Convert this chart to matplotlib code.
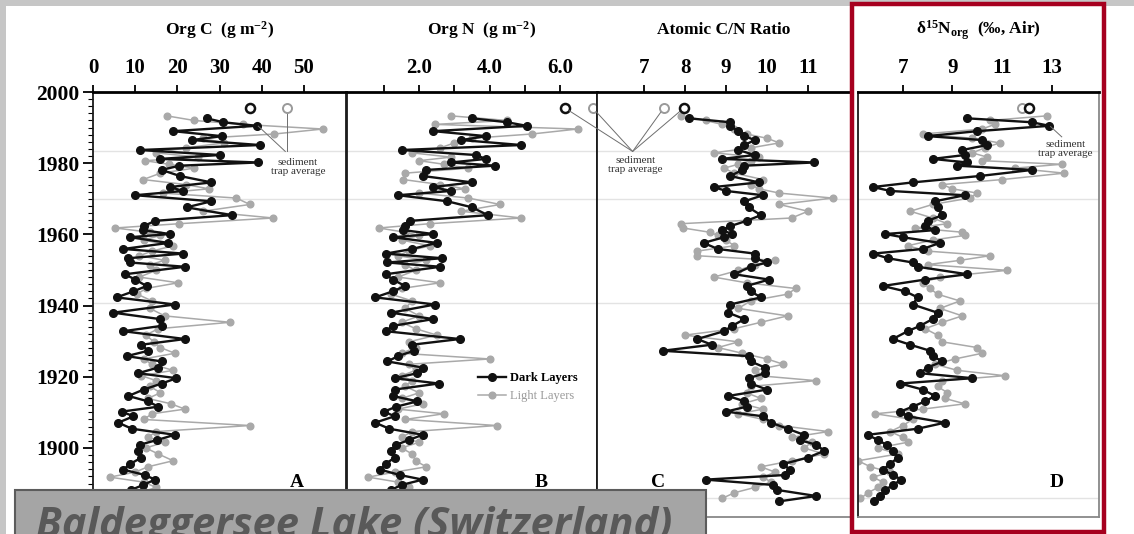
#!python3

import matplotlib
matplotlib.use("Agg")
import matplotlib.pyplot as plt
from matplotlib.patches import Rectangle
from matplotlib.lines import Line2D
from matplotlib.ticker import MultipleLocator

plt.rcParams['font.family'] = ['Liberation Serif', 'DejaVu Serif']
plt.rcParams['mathtext.fontset'] = 'custom'
plt.rcParams['mathtext.rm'] = 'Liberation Serif'
plt.rcParams['mathtext.bf'] = 'Liberation Serif:bold'
plt.rcParams['mathtext.it'] = 'Liberation Serif:italic'

W, H = 1134, 534

# years of the dark / light varve layers
dark_years = [1992.6, 1991.5, 1990.5, 1989.0, 1987.6, 1986.5, 1985.1, 1983.7, 1982.3, 1981.2,
              1980.2, 1979.3, 1978.1, 1976.4, 1974.6, 1973.3, 1972.2, 1971.0, 1969.3, 1967.6,
              1965.4, 1963.8, 1962.3, 1961.2, 1960.1, 1959.2, 1957.6, 1955.9, 1954.6, 1953.3,
              1952.1, 1950.9, 1948.8, 1947.3, 1945.5, 1944.0, 1942.3, 1940.3, 1938.0, 1936.2,
              1934.3, 1932.8, 1930.6, 1929.0, 1927.3, 1925.8, 1924.3, 1922.6, 1921.0, 1919.6,
              1918.1, 1916.4, 1914.6, 1913.1, 1911.6, 1910.2, 1908.9, 1907.1, 1905.4, 1903.7,
              1902.2, 1900.9, 1899.2, 1897.3, 1895.5, 1893.9, 1892.4, 1891.1, 1889.6, 1888.2,
              1886.5, 1885.0]
light_years = [1993.3, 1992.0, 1990.9, 1989.6, 1988.2, 1987.0, 1985.7, 1984.3, 1982.9, 1981.7,
               1980.7, 1979.7, 1978.6, 1977.2, 1975.4, 1974.0, 1972.8, 1971.6, 1970.2, 1968.4,
               1966.5, 1964.6, 1963.0, 1961.8, 1960.6, 1959.7, 1958.4, 1956.8, 1955.3, 1954.0,
               1952.7, 1951.5, 1949.9, 1948.0, 1946.4, 1944.8, 1943.2, 1941.3, 1939.2, 1937.1,
               1935.3, 1933.5, 1931.7, 1929.8, 1928.2, 1926.6, 1925.0, 1923.5, 1921.8, 1920.3,
               1918.9, 1917.3, 1915.5, 1913.9, 1912.4, 1910.9, 1909.6, 1908.0, 1906.3, 1904.6,
               1903.0, 1901.6, 1900.0, 1898.3, 1896.4, 1894.7, 1893.2, 1891.8, 1890.4, 1888.9,
               1887.4, 1885.8]

orgc_dark = [27.0, 30.9, 38.8, 19.0, 30.5, 23.5, 39.6, 11.1, 30.1, 15.9,
             39.2, 20.5, 16.3, 20.6, 28.1, 18.2, 21.4, 10.0, 28.1, 22.2,
             32.9, 14.7, 12.0, 11.9, 18.2, 8.8, 17.9, 7.2, 21.4, 8.4,
             8.8, 21.8, 7.6, 10.0, 12.7, 9.6, 5.6, 19.4, 4.8, 15.9,
             16.3, 7.2, 21.8, 11.5, 13.1, 8.0, 16.3, 15.5, 10.7, 19.8,
             16.3, 12.0, 8.4, 13.0, 15.5, 6.8, 9.6, 6.0, 9.2, 19.4,
             15.1, 11.1, 10.7, 11.5, 8.8, 7.2, 12.3, 14.7, 11.9, 9.0,
             12.0, 10.5]
orgc_light = [17.5, 24.0, 35.5, 54.5, 43.0, 26.0, 31.0, 22.0, 15.0, 25.0,
              12.3, 18.0, 24.0, 16.0, 11.9, 22.0, 27.5, 16.5, 34.0, 37.2,
              26.0, 42.7, 20.5, 5.2, 13.5, 16.0, 12.0, 19.0, 14.0, 11.0,
              17.0, 13.5, 15.0, 11.0, 20.2, 12.5, 10.5, 14.0, 13.5, 17.0,
              32.5, 15.5, 12.5, 14.5, 16.0, 19.4, 12.0, 14.0, 19.0, 11.5,
              15.0, 13.5, 16.0, 13.0, 18.5, 21.8, 14.0, 12.0, 37.2, 15.0,
              13.0, 17.0, 12.5, 15.5, 19.0, 13.0, 10.0, 4.0, 12.0, 15.0,
              11.0, 9.0]

orgn_dark = [3.5, 4.5, 5.05, 2.4, 3.9, 3.2, 4.9, 1.5, 3.6, 3.9,
             2.9, 4.15, 2.2, 2.1, 3.5, 2.4, 2.9, 1.4, 2.8, 3.5,
             3.95, 1.75, 1.6, 1.55, 2.4, 1.25, 2.5, 1.8, 1.05, 2.65,
             1.1, 2.6, 1.05, 1.25, 1.6, 1.25, 0.75, 2.45, 1.2, 2.4,
             1.25, 1.05, 3.15, 1.8, 1.85, 1.4, 1.1, 2.1, 1.95, 1.3,
             2.55, 1.3, 1.25, 1.95, 1.35, 1.0, 1.3, 0.75, 1.15, 2.1,
             1.7, 1.35, 1.2, 1.3, 1.05, 0.9, 1.45, 2.1, 1.5, 1.2,
             1.4, 1.1]
orgn_light = [2.9, 4.5, 2.45, 6.5, 5.2, 3.5, 3.0, 2.6, 1.8, 2.9,
              2.0, 2.7, 3.4, 1.6, 1.55, 2.6, 3.3, 2.0, 3.4, 4.3,
              3.2, 4.9, 2.3, 0.85, 1.6, 2.0, 1.5, 2.3, 1.7, 1.4,
              2.2, 1.6, 1.9, 1.4, 2.6, 1.5, 1.2, 1.8, 1.6, 2.0,
              1.5, 1.9, 2.5, 1.7, 1.9, 1.5, 4.0, 1.7, 1.9, 1.5,
              1.8, 1.6, 2.0, 1.5, 2.1, 1.4, 2.7, 1.6, 4.2, 1.8,
              1.5, 2.0, 1.5, 1.8, 1.9, 2.2, 1.3, 0.55, 1.4, 1.7,
              1.2, 1.0]

cn_dark = [8.1, 9.1, 9.1, 9.3, 9.45, 9.7, 9.45, 9.3, 9.7, 8.9,
           11.15, 9.45, 9.4, 9.1, 9.8, 8.7, 9.0, 9.9, 9.45, 9.55,
           9.85, 9.5, 9.1, 8.9, 9.15, 8.95, 8.45, 8.8, 9.7, 9.7,
           10.0, 9.6, 9.2, 10.05, 9.5, 9.6, 9.85, 9.1, 9.05, 9.45,
           9.15, 8.95, 8.3, 8.65, 7.45, 9.55, 9.6, 9.95, 9.95, 9.55,
           9.6, 10.0, 9.05, 9.45, 9.5, 9.0, 9.9, 10.1, 10.5, 10.9,
           10.8, 11.2, 11.4, 11.0, 10.4, 10.55, 10.45, 8.5, 10.15, 10.25,
           11.2, 10.3]
cn_light = [7.9, 8.5, 8.9, 9.2, 9.5, 10.0, 10.3, 9.6, 8.7, 9.8,
            9.6, 9.3, 8.95, 9.2, 9.9, 9.6, 9.8, 10.3, 11.6, 10.3,
            11.0, 10.6, 7.9, 7.95, 8.6, 8.8, 9.0, 9.2, 8.3, 8.3,
            10.2, 9.7, 9.3, 8.7, 9.5, 10.7, 10.5, 9.6, 9.3, 10.5,
            9.85, 9.2, 8.0, 9.3, 8.8, 9.4, 10.0, 10.4, 9.7, 9.8,
            11.2, 9.6, 9.5, 9.85, 9.4, 9.9, 9.3, 9.9, 10.3, 11.5,
            10.6, 11.1, 10.9, 11.4, 10.6, 9.85, 10.2, 9.9, 10.1, 9.7,
            9.2, 8.9]

d15n_dark = [9.6, 12.2, 12.9, 10.0, 8.0, 10.2, 10.4, 9.4, 9.5, 8.2,
             9.6, 9.2, 12.2, 10.1, 7.4, 5.8, 6.5, 9.5, 8.3, 8.4,
             8.6, 8.0, 7.9, 8.3, 6.3, 7.0, 8.5, 7.8, 5.8, 6.4,
             7.4, 7.6, 9.6, 7.9, 6.2, 7.1, 7.6, 7.4, 8.4, 8.2,
             7.7, 7.2, 6.6, 7.3, 8.1, 8.2, 8.6, 8.0, 7.7, 9.8,
             6.9, 7.8, 8.3, 7.9, 7.4, 6.9, 7.2, 8.7, 7.6, 5.6,
             6.0, 6.35, 6.6, 6.8, 6.5, 6.2, 6.6, 6.95, 6.6, 6.3,
             6.1, 5.85]
d15n_light = [12.8, 10.5, 10.7, 10.2, 7.8, 9.8, 10.9, 10.3, 9.8, 10.4,
              10.2, 13.4, 11.5, 13.5, 11.0, 8.6, 9.0, 10.0, 9.7, 8.2,
              7.3, 8.2, 8.8, 7.5, 9.4, 9.5, 8.2, 7.2, 8.0, 10.5,
              9.3, 8.0, 11.2, 8.5, 7.8, 8.1, 8.4, 9.3, 8.5, 9.4,
              8.6, 7.9, 8.4, 8.6, 10.0, 10.2, 9.1, 8.3, 9.2, 11.1,
              8.6, 8.4, 8.8, 8.7, 9.5, 7.8, 5.9, 7.4, 7.0, 6.5,
              7.0, 7.2, 6.0, 6.8, 5.2, 5.7, 6.5, 5.8, 6.2, 6.0,
              5.6, 5.3]

# sediment trap averages (dark, light)
trap_year = 1995.5
orgc_trap = [37.2, 45.9]
orgn_trap = [6.14, 6.93]
cn_trap = [7.97, 7.48]
d15n_trap = [12.1, 11.8]

titles = ["Org C  (g m$^{\\mathbf{-2}}$)",
          "Org N  (g m$^{\\mathbf{-2}}$)",
          "Atomic C/N Ratio",
          "δ$^{\\mathbf{15}}$N$_{\\mathbf{org}}$  (‰, Air)"]
orgc_ticks = [0, 10, 20, 30, 40, 50]
orgn_ticks = [1, 2, 3, 4, 5, 6]
orgn_ticklabels = ["", "2.0", "", "4.0", "", "6.0"]
cn_ticks = [7, 8, 9, 10, 11]
d15n_ticks = [7, 9, 11, 13]
letters = ["A", "B", "C", "D"]

DARK = "#111111"
LIGHT = "#a9a9a9"
LINE = "#6e6e6e"


def px_rect(x0, x1, y0=92, y1=517):
    return [x0 / W, 1 - y1 / H, (x1 - x0) / W, (y1 - y0) / H]


def draw_series(ax, dark, light):
    ax.plot(light, light_years, '-o', color=LIGHT, lw=1.1, ms=4.8, zorder=2)
    ax.plot(dark, dark_years, '-o', color=DARK, lw=1.7, ms=5.5, zorder=3)


def draw_trap(ax, vals):
    ax.plot(vals[1], trap_year, 'o', mfc='white', mec='#9a9a9a', mew=1.4, ms=6.5,
            clip_on=False, zorder=5)
    ax.plot(vals[0], trap_year, 'o', mfc='white', mec=DARK, mew=1.8, ms=6.5,
            clip_on=False, zorder=6)


def trap_text(ax, x, y):
    ax.text(x, y, "sediment\ntrap average", ha='center', va='center', fontsize=8,
            color='#333333', linespacing=0.95, clip_on=False, zorder=6)


def style_axes(ax, xlim, ticks, ticklabels, title, title_x, letter, letter_x):
    ax.set_ylim(1880.6, 2000)
    ax.set_xlim(*xlim)
    ax.xaxis.tick_top()
    ax.set_xticks(ticks)
    ax.set_xticklabels(ticklabels, fontweight='bold', fontsize=15)
    ax.tick_params(axis='x', direction='out', length=5, width=1.3, pad=5)
    for side in ['left', 'right', 'bottom']:
        ax.spines[side].set_linewidth(1.3)
        ax.spines[side].set_color('#1a1a1a')
    ax.spines['top'].set_linewidth(2.0)
    for yy in [1983.3, 1970.0, 1940.6, 1885.9]:
        ax.axhline(yy, color='#e3e3e3', lw=1.0, zorder=0.5)
    ax.text(title_x, 1.146, title, transform=ax.transAxes, ha='center', va='center',
            fontsize=12.5, fontweight='bold')
    ax.text(letter_x, 1890.3, letter, ha='center', va='center', fontsize=14,
            fontweight='bold', zorder=6)


def main():
    fig = plt.figure(figsize=(W / 100, H / 100), dpi=100)
    fig.patch.set_facecolor('#c6c6c6')
    fig.add_artist(Rectangle((6 / W, 0), 1 - 6 / W, 1 - 6 / H, transform=fig.transFigure,
                             facecolor='white', edgecolor='none', zorder=-10))

    axA = fig.add_axes(px_rect(93, 346))
    axB = fig.add_axes(px_rect(347, 597))
    axC = fig.add_axes(px_rect(597, 851))
    axD = fig.add_axes(px_rect(858, 1099))

    draw_series(axA, orgc_dark, orgc_light)
    draw_series(axB, orgn_dark, orgn_light)
    draw_series(axC, cn_dark, cn_light)
    draw_series(axD, d15n_dark, d15n_light)

    style_axes(axA, (0, 60), orgc_ticks, [str(t) for t in orgc_ticks],
               titles[0], 0.5, letters[0], 48.4)
    style_axes(axB, (-0.05, 7.05), orgn_ticks, orgn_ticklabels,
               titles[1], 0.54, letters[1], 5.45)
    style_axes(axC, (5.85, 12.05), cn_ticks, [str(t) for t in cn_ticks],
               titles[2], 0.5, letters[2], 7.35)
    style_axes(axD, (5.2, 14.9), d15n_ticks, [str(t) for t in d15n_ticks],
               titles[3], 0.5, letters[3], 13.2)

    # only the first panel carries the year axis
    axA.yaxis.set_major_locator(MultipleLocator(20))
    axA.yaxis.set_minor_locator(MultipleLocator(2))
    axA.tick_params(axis='y', which='major', direction='out', length=7, width=1.3,
                    labelsize=15.5, pad=3)
    axA.tick_params(axis='y', which='minor', direction='out', length=3.5, width=0.8)
    for lab in axA.get_yticklabels():
        lab.set_fontweight('bold')
    for ax in [axB, axC, axD]:
        ax.tick_params(axis='y', which='both', left=False, labelleft=False)
    for ax in [axC, axD]:
        ax.spines['bottom'].set_color('#888888')
    axD.spines['right'].set_color('#888888')

    # sediment trap averages
    draw_trap(axA, orgc_trap)
    draw_trap(axB, orgn_trap)
    draw_trap(axC, cn_trap)
    draw_trap(axD, d15n_trap)

    axA.plot([orgc_trap[1], orgc_trap[1]], [1994.7, 1983.3], color=LINE, lw=0.7, zorder=4)
    axA.plot([39.2, 45.6], [1990.4, 1983.3], color=LINE, lw=0.7, zorder=4)
    trap_text(axA, 48.6, 1978.9)

    join = (6.72, 1983.3)
    for xb in orgn_trap:
        axC.annotate("", xy=(xb, trap_year), xycoords=axB.transData,
                     xytext=join, textcoords=axC.transData,
                     arrowprops=dict(arrowstyle='-', color=LINE, lw=0.7,
                                     shrinkA=0, shrinkB=3.5))
    for xc in cn_trap:
        axC.annotate("", xy=(xc, trap_year), xycoords='data', xytext=join,
                     arrowprops=dict(arrowstyle='-', color=LINE, lw=0.7,
                                     shrinkA=0, shrinkB=3.5))
    trap_text(axC, 6.78, 1979.4)

    axD.plot([12.95, 13.4], [1990.3, 1987.4], color=LINE, lw=0.7, zorder=4)
    trap_text(axD, 13.55, 1983.9)

    # legend in panel B
    handles = [Line2D([], [], color=DARK, lw=1.7, marker='o', ms=5.5),
               Line2D([], [], color=LIGHT, lw=1.1, marker='o', ms=4.8)]
    leg = axB.legend(handles, ["Dark Layers", "Light Layers"], loc='upper left',
                     bbox_to_anchor=(0.5, 0.355), frameon=False, fontsize=9,
                     handlelength=2.2, handletextpad=0.3, labelspacing=0.45,
                     borderpad=0, numpoints=1)
    leg.get_texts()[0].set_fontweight('bold')
    leg.get_texts()[1].set_color('#9a9a9a')

    # red highlight around panel D
    fig.add_artist(Rectangle((852 / W, 1 - 532 / H), 252 / W, 528 / H,
                             transform=fig.transFigure, fill=False,
                             edgecolor='#a6001f', lw=3.2, zorder=20))

    # slide caption box, its text runs off the bottom of the slide
    fig.add_artist(Rectangle((15 / W, -0.05), 691 / W, (534 - 490) / H + 0.05,
                             transform=fig.transFigure, facecolor='#a5a5a5',
                             edgecolor='#5c5c5c', lw=1.5, zorder=15))
    fig.text(36 / W, 1 - 537 / H, "Baldeggersee Lake (Switzerland)",
             family=['Open Sans', 'DejaVu Sans'], style='italic', weight='bold',
             fontsize=30, color='#595959', va='baseline', zorder=16)

    fig.savefig("out.png", dpi=100, facecolor=fig.get_facecolor())


if __name__ == "__main__":
    main()
